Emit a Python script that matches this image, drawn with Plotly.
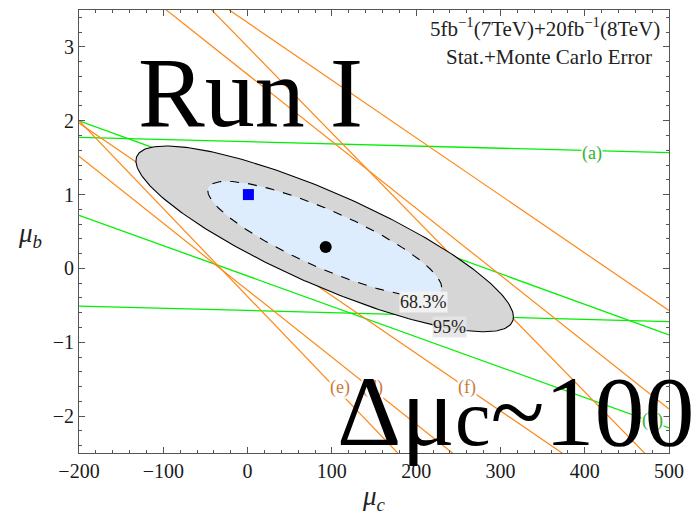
import numpy as np
import plotly.graph_objects as go

# ---------------- data ----------------
X_RANGE = [-200, 500]
Y_RANGE = [-2.5, 3.5]
line_x = [-200, 500]

# band boundary lines: mu_b at mu_c=-200 and at mu_c=500
green_at_left = [1.776, -0.51, 2.00, 0.72]      # (a) upper, (a) lower, (b) upper, (b) lower
green_at_right = [1.568, -0.72, -0.90, -2.16]

orange_at_left = [4.89, 1.97, 5.34, 2.00, 4.44, 1.518]     # (f) up/low, (e) up/low, (d) up/low
orange_at_right = [-0.57, -3.49, -2.84, -6.33, -1.905, -4.83]

# fit result
best_fit_c, best_fit_b = [92.7], [0.29]
sm_c, sm_b = [1.0], [1.0]
ell_center = [91.5, 0.40]
sigma_c, sigma_b, rho = 91.5, 0.514, -0.84
cl_chi2 = [5.99, 2.30]
cl_names = ["95%", "68.3%"]
cl_label_x = [240.1, 209.3]
cl_label_y = [-0.80, -0.455]

band_labels = ["(a)", "(b)", "(d)", "(e)", "(f)"]
band_label_x = [409, 481, 148.8, 109.6, 259.9]
band_label_y = [1.56, -2.06, -1.61, -1.61, -1.61]
band_label_colors = ["#33b033", "#33b033", "#c97a3a", "#c97a3a", "#c97a3a"]

# ---------------- figure ----------------
SERIF = "Liberation Serif, Times New Roman, serif"
fig = go.Figure()

for yl, yr in zip(green_at_left, green_at_right):
    fig.add_trace(go.Scatter(x=line_x, y=[yl, yr], mode="lines",
                             line=dict(color="rgb(0,240,0)", width=1.3),
                             hoverinfo="skip", showlegend=False))
for yl, yr in zip(orange_at_left, orange_at_right):
    fig.add_trace(go.Scatter(x=line_x, y=[yl, yr], mode="lines",
                             line=dict(color="rgb(255,135,20)", width=1.2),
                             hoverinfo="skip", showlegend=False))

cov = np.array([[sigma_c**2, rho*sigma_c*sigma_b], [rho*sigma_c*sigma_b, sigma_b**2]])
Lc = np.linalg.cholesky(cov)
t = np.linspace(0, 2*np.pi, 300)
circ = np.vstack([np.cos(t), np.sin(t)])
fills = ["rgb(214,214,214)", "rgb(221,237,253)"]
dashes = ["solid", "dash"]
for k, fc, ds in zip(cl_chi2, fills, dashes):
    pts = np.sqrt(k) * (Lc @ circ)
    fig.add_trace(go.Scatter(x=ell_center[0] + pts[0], y=ell_center[1] + pts[1],
                             mode="lines", fill="toself", fillcolor=fc,
                             line=dict(color="black", width=1.1, dash=ds),
                             hoverinfo="skip", showlegend=False))

fig.add_trace(go.Scatter(x=best_fit_c, y=best_fit_b, mode="markers",
                         marker=dict(color="black", size=12, symbol="circle"),
                         showlegend=False))
fig.add_trace(go.Scatter(x=sm_c, y=sm_b, mode="markers",
                         marker=dict(color="rgb(0,0,255)", size=11, symbol="square"),
                         showlegend=False))

ann = []
for txt, x, y, bg in zip(cl_names, cl_label_x, cl_label_y,
                         ["rgba(228,228,228,0.9)", "rgba(242,242,242,0.95)"]):
    ann.append(dict(x=x, y=y, xref="x", yref="y", text=txt, showarrow=False,
                    font=dict(family=SERIF, size=18, color="#222"), bgcolor=bg, borderpad=0))
for txt, x, y, c in zip(band_labels, band_label_x, band_label_y, band_label_colors):
    ann.append(dict(x=x, y=y, xref="x", yref="y", text=txt, showarrow=False,
                    font=dict(family=SERIF, size=18, color=c), bgcolor="white", borderpad=0))

# texts
ann.append(dict(x=0.2907, y=0.814, xref="paper", yref="paper", text="Run I",
                showarrow=False, xanchor="center", yanchor="middle",
                font=dict(family=SERIF, size=100, color="black")))
ann.append(dict(x=0.7407, y=0.094, xref="paper", yref="paper",
                text='Δμ<span style="font-size:80px">c</span>~100',
                showarrow=False, xanchor="center", yanchor="middle",
                font=dict(family=SERIF, size=100, color="black")))
ann.append(dict(x=0.988, y=0.9248, xref="paper", yref="paper",
                text="5fb<sup>−1</sup>(7TeV)+20fb<sup>−1</sup>(8TeV)",
                showarrow=False, xanchor="right", yanchor="bottom",
                font=dict(family=SERIF, size=21, color="#222")))
ann.append(dict(x=0.9746, y=0.8623, xref="paper", yref="paper",
                text="Stat.+Monte Carlo Error",
                showarrow=False, xanchor="right", yanchor="bottom",
                font=dict(family=SERIF, size=21, color="#222")))
ann.append(dict(x=-0.083, y=0.493, xref="paper", yref="paper",
                text='<i>μ<sub>b</sub></i>', showarrow=False,
                xanchor="center", yanchor="middle",
                font=dict(family=SERIF, size=27, color="#222")))

axis_common = dict(showgrid=False, zeroline=False, showline=True, linecolor="#555",
                   linewidth=1, mirror="allticks", ticks="inside", ticklen=6,
                   tickcolor="#555", tickwidth=1, automargin=False,
                   tickfont=dict(family=SERIF, size=20, color="#1a1a1a"))
fig.update_xaxes(range=X_RANGE, tick0=0, dtick=100,
                 minor=dict(dtick=20, ticklen=3, ticks="inside", tickcolor="#555"),
                 title=dict(text='<i>μ<sub>c</sub></i>', standoff=13,
                            font=dict(family=SERIF, size=27, color="#222")),
                 **axis_common)
fig.update_yaxes(range=Y_RANGE, tick0=0, dtick=1,
                 minor=dict(dtick=0.2, ticklen=3, ticks="inside", tickcolor="#555"),
                 **axis_common)

fig.update_layout(width=698, height=515, autosize=False,
                  margin=dict(l=79, r=29, t=10, b=62),
                  paper_bgcolor="white", plot_bgcolor="white",
                  annotations=ann, showlegend=False)

fig.write_html("out.html")
